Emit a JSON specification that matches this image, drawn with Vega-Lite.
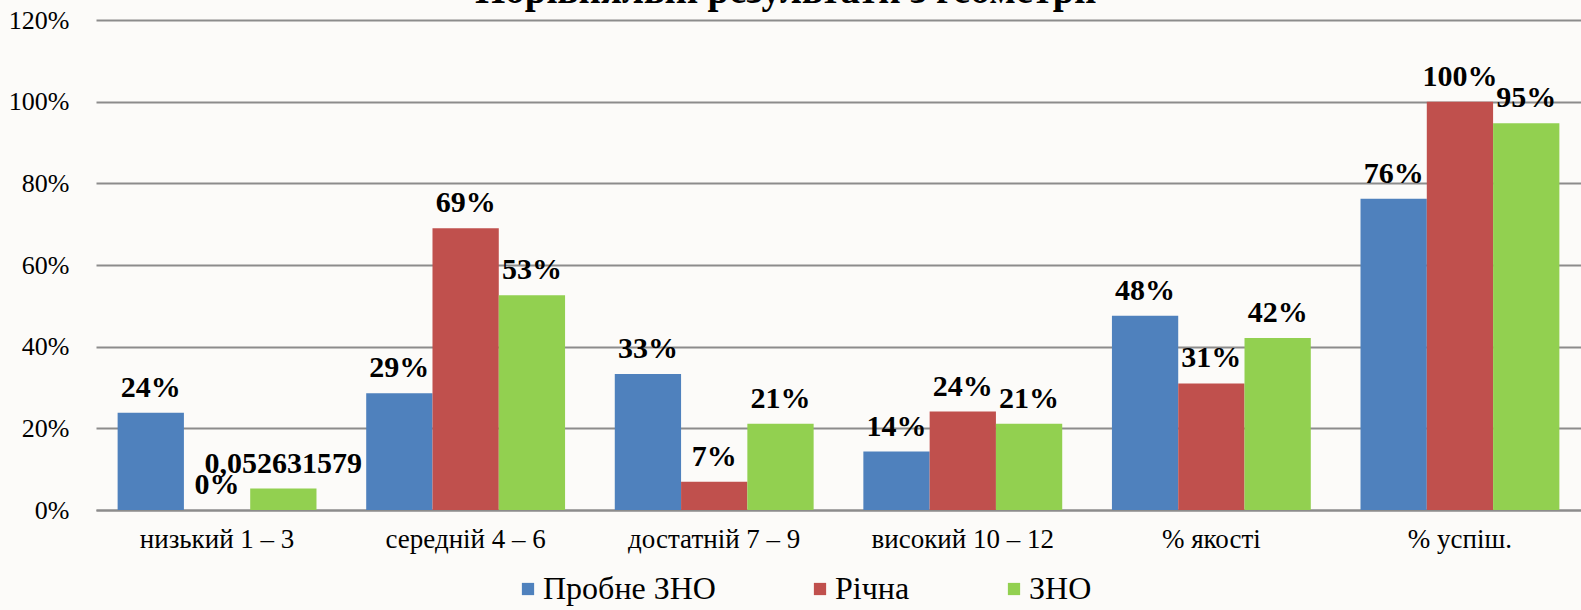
{
  "$schema": "https://vega.github.io/schema/vega-lite/v6.json",
  "autosize": "none",
  "width": 1485,
  "height": 490,
  "padding": {"left": 96, "top": 20, "right": 0, "bottom": 100},
  "background": "#fcfbf9",
  "config": {"view": {"stroke": null}, "font": "Liberation Serif, Times New Roman, DejaVu Serif, serif"},
  "title": {
    "text": "Порівняльні результати з геометрії",
    "font": "Liberation Serif, Times New Roman, DejaVu Serif, serif",
    "fontSize": 39,
    "fontWeight": "bold",
    "color": "#000000",
    "anchor": "middle",
    "baseline": "alphabetic",
    "offset": -35,
    "dx": -53
  },
  "data": {
    "values": [
      {"category": "низький 1 – 3", "series": "Пробне ЗНО", "value": 0.238, "label": "24%"},
      {"category": "низький 1 – 3", "series": "Річна", "value": 0, "label": "0%"},
      {"category": "низький 1 – 3", "series": "ЗНО", "value": 0.052631579, "label": "0,052631579"},
      {"category": "середній 4 – 6", "series": "Пробне ЗНО", "value": 0.286, "label": "29%"},
      {"category": "середній 4 – 6", "series": "Річна", "value": 0.69, "label": "69%"},
      {"category": "середній 4 – 6", "series": "ЗНО", "value": 0.526, "label": "53%"},
      {"category": "достатній 7 – 9", "series": "Пробне ЗНО", "value": 0.333, "label": "33%"},
      {"category": "достатній 7 – 9", "series": "Річна", "value": 0.069, "label": "7%"},
      {"category": "достатній 7 – 9", "series": "ЗНО", "value": 0.211, "label": "21%"},
      {"category": "високий 10 – 12", "series": "Пробне ЗНО", "value": 0.143, "label": "14%"},
      {"category": "високий 10 – 12", "series": "Річна", "value": 0.241, "label": "24%"},
      {"category": "високий 10 – 12", "series": "ЗНО", "value": 0.211, "label": "21%"},
      {"category": "% якості", "series": "Пробне ЗНО", "value": 0.476, "label": "48%"},
      {"category": "% якості", "series": "Річна", "value": 0.31, "label": "31%"},
      {"category": "% якості", "series": "ЗНО", "value": 0.421, "label": "42%"},
      {"category": "% успіш.", "series": "Пробне ЗНО", "value": 0.762, "label": "76%"},
      {"category": "% успіш.", "series": "Річна", "value": 1.0, "label": "100%"},
      {"category": "% успіш.", "series": "ЗНО", "value": 0.947, "label": "95%"}
    ]
  },
  "encoding": {
    "x": {
      "field": "category",
      "type": "nominal",
      "sort": ["низький 1 – 3", "середній 4 – 6", "достатній 7 – 9", "високий 10 – 12", "% якості", "% успіш."],
      "scale": {"paddingInner": 0.2, "paddingOuter": 0.087},
      "axis": {
        "title": null,
        "labelAngle": 0,
        "labelFont": "Liberation Serif, Times New Roman, DejaVu Serif, serif",
        "labelFontSize": 27,
        "labelLimit": 400,
        "labelColor": "#000000",
        "labelPadding": 16,
        "ticks": false,
        "domain": true,
        "domainColor": "#8c8c8c",
        "domainWidth": 2,
        "grid": false
      }
    },
    "xOffset": {
      "field": "series",
      "type": "nominal",
      "sort": ["Пробне ЗНО", "Річна", "ЗНО"],
      "scale": {"paddingInner": 0, "paddingOuter": 0}
    },
    "y": {
      "field": "value",
      "type": "quantitative",
      "scale": {"domain": [0, 1.2], "nice": false},
      "axis": {
        "title": null,
        "format": ".0%",
        "values": [0, 0.2, 0.4, 0.6, 0.8, 1.0, 1.2],
        "labelFont": "Liberation Serif, Times New Roman, DejaVu Serif, serif",
        "labelFontSize": 26,
        "labelColor": "#000000",
        "labelPadding": 27,
        "ticks": false,
        "domain": false,
        "grid": true,
        "gridColor": "#8c8c8c",
        "gridWidth": 2
      }
    }
  },
  "layer": [
    {
      "mark": {"type": "bar"},
      "encoding": {
        "color": {
          "field": "series",
          "type": "nominal",
          "sort": ["Пробне ЗНО", "Річна", "ЗНО"],
          "scale": {"domain": ["Пробне ЗНО", "Річна", "ЗНО"], "range": ["#4F81BD", "#C0504D", "#92D050"]},
          "legend": {
            "title": null,
            "orient": "none",
            "direction": "horizontal",
            "legendX": 416,
            "legendY": 553,
            "padding": 0,
            "symbolType": "square",
            "symbolSize": 150,
            "symbolStrokeWidth": 0,
            "labelFont": "Liberation Serif, Times New Roman, DejaVu Serif, serif",
            "labelFontSize": 32,
            "labelColor": "#000000",
            "labelOffset": -1,
            "columnPadding": 88,
            "labelLimit": 400
          }
        }
      }
    },
    {
      "mark": {
        "type": "text",
        "font": "Liberation Serif, Times New Roman, DejaVu Serif, serif",
        "fontSize": 30,
        "fontWeight": "bold",
        "color": "#000000",
        "baseline": "alphabetic",
        "align": "center",
        "dy": -16
      },
      "encoding": {
        "text": {"field": "label", "type": "nominal"}
      }
    }
  ]
}
